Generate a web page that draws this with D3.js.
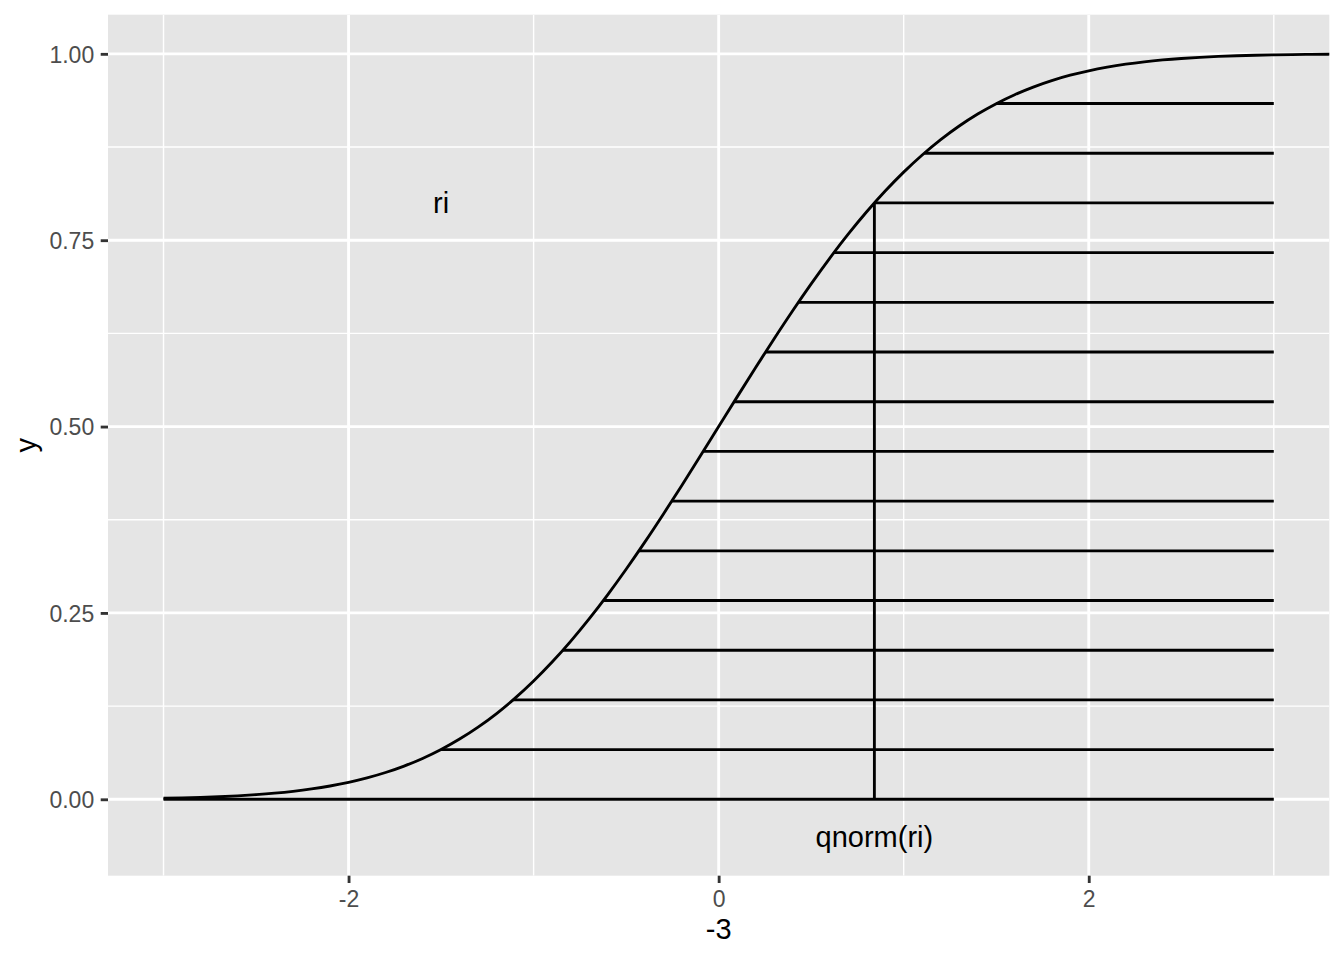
<!DOCTYPE html>
<html>
<head>
<meta charset="utf-8">
<script src="https://cdn.jsdelivr.net/npm/d3@7"></script>
<style>
html, body { margin: 0; padding: 0; background: #ffffff; }
svg { display: block; font-family: "Liberation Sans", Arial, Helvetica, sans-serif; }
</style>
</head>
<body>
<svg id="chart" width="1344" height="960"></svg>
<script>
// ---- data ----
// normal CDF curve, sampled points read from the picture
const curveX = [-3.0,-2.9,-2.8,-2.7,-2.6,-2.5,-2.4,-2.3,-2.2,-2.1,-2.0,-1.9,-1.8,-1.7,-1.6,-1.5,-1.4,-1.3,-1.2,-1.1,-1.0,-0.9,-0.8,-0.7,-0.6,-0.5,-0.4,-0.3,-0.2,-0.1,0.0,0.1,0.2,0.3,0.4,0.5,0.6,0.7,0.8,0.9,1.0,1.1,1.2,1.3,1.4,1.5,1.6,1.7,1.8,1.9,2.0,2.1,2.2,2.3,2.4,2.5,2.6,2.7,2.8,2.9,3.0,3.1,3.2,3.3,3.4];
const curveY = [0.00135,0.00187,0.00256,0.00347,0.00466,0.00621,0.00820,0.01072,0.01390,0.01786,0.02275,0.02872,0.03593,0.04457,0.05480,0.06681,0.08076,0.09680,0.11507,0.13567,0.15866,0.18406,0.21186,0.24196,0.27425,0.30854,0.34458,0.38209,0.42074,0.46017,0.5,0.53983,0.57926,0.61791,0.65542,0.69146,0.72575,0.75804,0.78814,0.81594,0.84134,0.86433,0.88493,0.90320,0.91924,0.93319,0.94520,0.95543,0.96407,0.97128,0.97725,0.98214,0.98610,0.98928,0.99180,0.99379,0.99534,0.99653,0.99744,0.99813,0.99865,0.99903,0.99931,0.99952,0.99966];
// horizontal segments: level ri and its start qnorm(ri), ending at x = 3
const ri = [0, 0.06667,0.13333,0.2,0.26667,0.33333,0.4,0.46667,0.53333,0.6,0.66667,0.73333,0.8,0.86667,0.93333];
const segStart = [-3, -1.501,-1.111,-0.8416,-0.6229,-0.4307,-0.2533,-0.0837,0.0837,0.2533,0.4307,0.6229,0.8416,1.111,1.501];
const segEnd = 3;
// vertical segment
const vX = 0.8416, vY0 = 0, vY1 = 0.8;
// annotations
const labels = [{x: -1.5, y: 0.8, text: "ri"}, {x: 0.8416, y: -0.05, text: "qnorm(ri)"}];
// axes
const xMajor = [-2, 0, 2];
const xMajorLabels = ["-2", "0", "2"];
const xMinor = [-3, -1, 1, 3];
const yMajor = [0, 0.25, 0.5, 0.75, 1.0];
const yMajorLabels = ["0.00", "0.25", "0.50", "0.75", "1.00"];
const yMinor = [0.125, 0.375, 0.625, 0.875];
const xTitle = "-3";
const yTitle = "y";

// ---- layout ----
const svg = d3.select("#chart");
const panel = {left: 108, right: 1329.3, top: 14.7, bottom: 875.7};
const x = d3.scaleLinear().domain([-3.3, 3.3]).range([panel.left, panel.right]);
const y = d3.scaleLinear().domain([-0.1025, 1.0525]).range([panel.bottom, panel.top]);

svg.append("defs").append("clipPath").attr("id", "clip")
  .append("rect").attr("x", panel.left).attr("y", panel.top)
  .attr("width", panel.right - panel.left).attr("height", panel.bottom - panel.top);

svg.append("rect").attr("x", panel.left).attr("y", panel.top)
  .attr("width", panel.right - panel.left).attr("height", panel.bottom - panel.top)
  .attr("fill", "#e5e5e5");

const grid = svg.append("g").attr("clip-path", "url(#clip)");
grid.selectAll(".xmin").data(xMinor).enter().append("line")
  .attr("x1", d => x(d)).attr("x2", d => x(d)).attr("y1", panel.top).attr("y2", panel.bottom)
  .attr("stroke", "#fff").attr("stroke-width", 1.42);
grid.selectAll(".ymin").data(yMinor).enter().append("line")
  .attr("y1", d => y(d)).attr("y2", d => y(d)).attr("x1", panel.left).attr("x2", panel.right)
  .attr("stroke", "#fff").attr("stroke-width", 1.42);
grid.selectAll(".xmaj").data(xMajor).enter().append("line")
  .attr("x1", d => x(d)).attr("x2", d => x(d)).attr("y1", panel.top).attr("y2", panel.bottom)
  .attr("stroke", "#fff").attr("stroke-width", 2.85);
grid.selectAll(".ymaj").data(yMajor).enter().append("line")
  .attr("y1", d => y(d)).attr("y2", d => y(d)).attr("x1", panel.left).attr("x2", panel.right)
  .attr("stroke", "#fff").attr("stroke-width", 2.85);

const marks = svg.append("g").attr("clip-path", "url(#clip)");
const pts = curveX.map((d, i) => [d, curveY[i]]);
marks.append("path").datum(pts)
  .attr("d", d3.line().x(d => x(d[0])).y(d => y(d[1])).curve(d3.curveMonotoneX))
  .attr("fill", "none").attr("stroke", "#000").attr("stroke-width", 2.85);

marks.selectAll(".seg").data(ri).enter().append("line")
  .attr("x1", (d, i) => x(segStart[i])).attr("x2", x(segEnd))
  .attr("y1", d => y(d)).attr("y2", d => y(d))
  .attr("stroke", "#000").attr("stroke-width", 2.85);

marks.append("line").attr("x1", x(vX)).attr("x2", x(vX)).attr("y1", y(vY0)).attr("y2", y(vY1))
  .attr("stroke", "#000").attr("stroke-width", 2.85);

marks.selectAll(".lab").data(labels).enter().append("text")
  .attr("x", d => x(d.x)).attr("y", d => y(d.y) + 10.5)
  .attr("text-anchor", "middle").attr("font-size", 29).attr("fill", "#000")
  .text(d => d.text);

// axes
const xAxis = d3.axisBottom(x).tickValues(xMajor).tickFormat((d, i) => xMajorLabels[i]).tickSize(7.3).tickPadding(8);
const gx = svg.append("g").attr("transform", `translate(0,${panel.bottom})`).call(xAxis);
gx.select(".domain").remove();
gx.selectAll(".tick line").attr("stroke", "#333").attr("stroke-width", 2.85);
gx.selectAll(".tick text").attr("fill", "#4d4d4d").attr("font-size", 23)
  .attr("font-family", "Liberation Sans, Arial, sans-serif")
  .attr("dy", null).attr("y", 31.2);

const yAxis = d3.axisLeft(y).tickValues(yMajor).tickFormat((d, i) => yMajorLabels[i]).tickSize(7.3).tickPadding(6.5);
const gy = svg.append("g").attr("transform", `translate(${panel.left},0)`).call(yAxis);
gy.select(".domain").remove();
gy.selectAll(".tick line").attr("stroke", "#333").attr("stroke-width", 2.85);
gy.selectAll(".tick text").attr("fill", "#4d4d4d").attr("font-size", 23)
  .attr("font-family", "Liberation Sans, Arial, sans-serif")
  .attr("dy", null).attr("y", 8.3);

svg.append("text").attr("x", (panel.left + panel.right) / 2).attr("y", 939)
  .attr("text-anchor", "middle").attr("font-size", 29).attr("fill", "#000").text(xTitle);
svg.append("text").attr("transform", `translate(36,${(panel.top + panel.bottom) / 2}) rotate(-90)`)
  .attr("text-anchor", "middle").attr("font-size", 29).attr("fill", "#000").text(yTitle);
</script>
</body>
</html>
